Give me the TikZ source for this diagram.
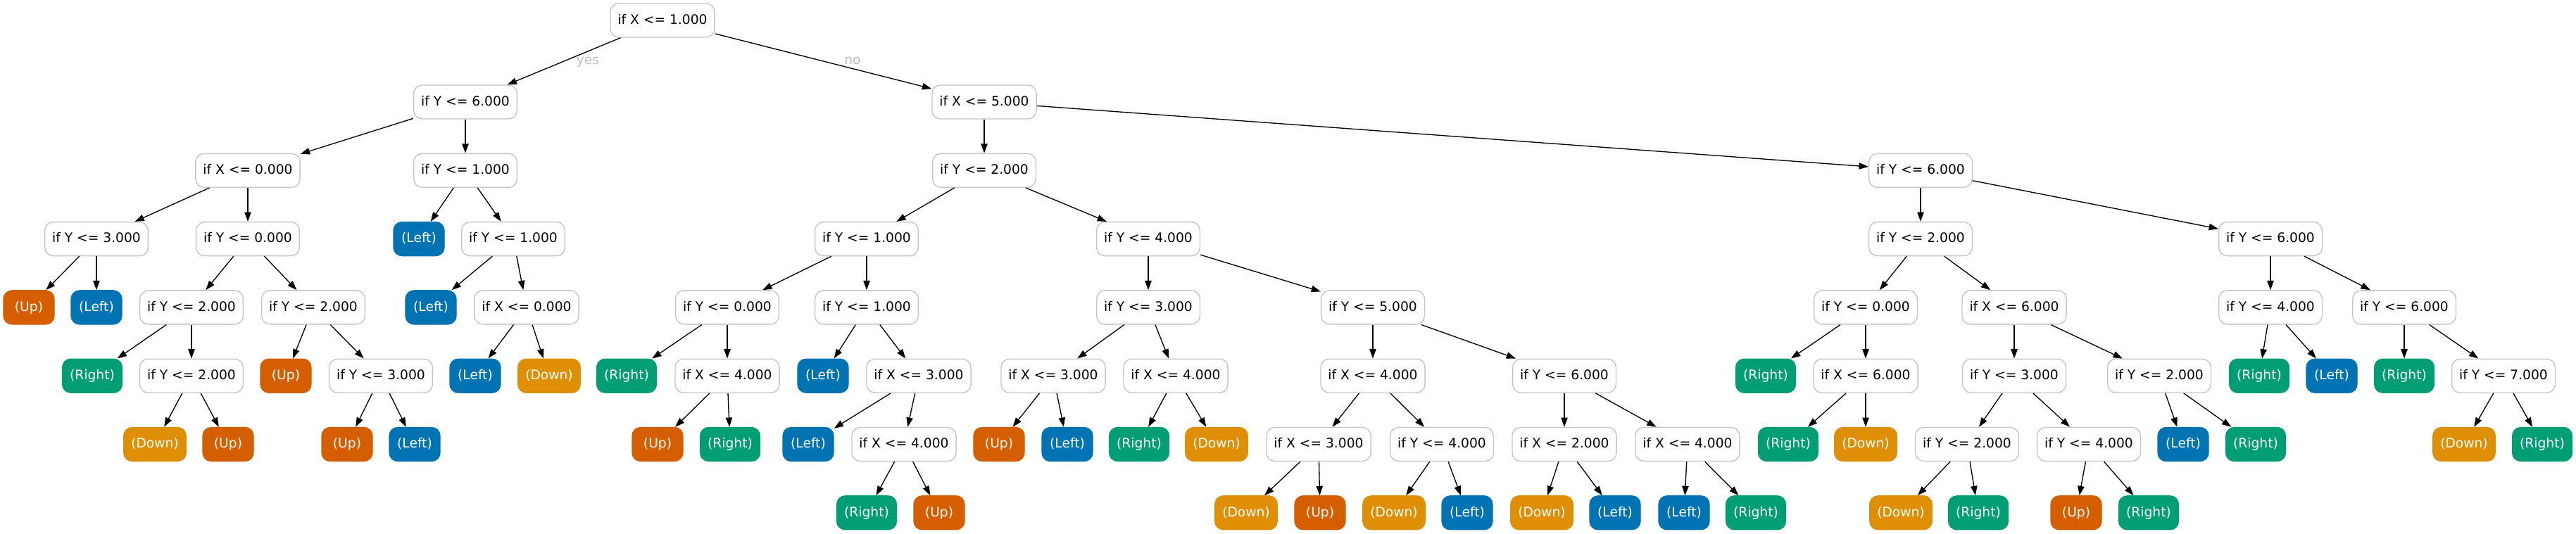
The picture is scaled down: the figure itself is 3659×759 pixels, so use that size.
\documentclass[tikz,border=0pt]{standalone}
\usepackage{fontspec}
\setmainfont{DejaVu Sans}
\usetikzlibrary{arrows.meta}
\definecolor{cUp}{HTML}{D55E00}
\definecolor{cLeft}{HTML}{0173B2}
\definecolor{cRight}{HTML}{029E73}
\definecolor{cDown}{HTML}{DE8F05}
\definecolor{bordergray}{HTML}{C4C4C4}
\definecolor{labelgray}{HTML}{BDBDBD}
\tikzset{
  basebox/.style={rounded corners=9pt, minimum height=36pt, minimum width=54pt,
    inner xsep=7.92pt, inner ysep=0pt, text height=10.4pt, text depth=2.6pt,
    font=\fontsize{14pt}{16pt}\selectfont, line width=1pt},
  dec/.style={basebox, draw=bordergray, fill=white, text=black},
  lfUp/.style={basebox, draw=cUp, fill=cUp, text=white},
  lfLeft/.style={basebox, draw=cLeft, fill=cLeft, text=white},
  lfRight/.style={basebox, draw=cRight, fill=cRight, text=white},
  lfDown/.style={basebox, draw=cDown, fill=cDown, text=white},
  edge/.style={draw=black, line width=1pt, -{Triangle[length=10pt,width=7pt]}},
  elab/.style={font=\fontsize{14pt}{16pt}\selectfont, text=labelgray, anchor=base, inner sep=0pt}
}
\begin{document}
\begin{tikzpicture}[x=0.75pt,y=-0.75pt]
\fill[white] (0,0) rectangle (3659,759);
\useasboundingbox (0,0) rectangle (3659,759);
% level 0
\node[dec] (r) at (941,29) {if X <= 1.000};
% level 1
\node[dec] (a) at (661,145) {if Y <= 6.000};
\node[dec] (b) at (1398,145) {if X <= 5.000};
% level 2
\node[dec] (aa) at (352,242.3) {if X <= 0.000};
\node[dec] (ab) at (661,242.3) {if Y <= 1.000};
\node[dec] (ba) at (1398,242.3) {if Y <= 2.000};
\node[dec] (bb) at (2728,242.3) {if Y <= 6.000};
% level 3
\node[dec] (aaa) at (137,339.6) {if Y <= 3.000};
\node[dec] (aab) at (352,339.6) {if Y <= 0.000};
\node[lfLeft] (aba) at (595,339.6) {(Left)};
\node[dec] (abb) at (729,339.6) {if Y <= 1.000};
\node[dec] (baa) at (1231,339.6) {if Y <= 1.000};
\node[dec] (bab) at (1631,339.6) {if Y <= 4.000};
\node[dec] (bba) at (2728,339.6) {if Y <= 2.000};
\node[dec] (bbb) at (3225,339.6) {if Y <= 6.000};
% level 4
\node[lfUp] (aaaa) at (41,436.9) {(Up)};
\node[lfLeft] (aaab) at (137,436.9) {(Left)};
\node[dec] (aaba) at (272,436.9) {if Y <= 2.000};
\node[dec] (aabb) at (445,436.9) {if Y <= 2.000};
\node[lfLeft] (abba) at (612,436.9) {(Left)};
\node[dec] (abbb) at (748,436.9) {if X <= 0.000};
\node[dec] (baaa) at (1033,436.9) {if Y <= 0.000};
\node[dec] (baab) at (1231,436.9) {if Y <= 1.000};
\node[dec] (baba) at (1631,436.9) {if Y <= 3.000};
\node[dec] (babb) at (1950,436.9) {if Y <= 5.000};
\node[dec] (bbaa) at (2650,436.9) {if Y <= 0.000};
\node[dec] (bbab) at (2861,436.9) {if X <= 6.000};
\node[dec] (bbba) at (3225,436.9) {if Y <= 4.000};
\node[dec] (bbbb) at (3415,436.9) {if Y <= 6.000};
% level 5
\node[lfRight] (aabaa) at (131,534.2) {(Right)};
\node[dec] (aabab) at (272,534.2) {if Y <= 2.000};
\node[lfUp] (aabba) at (406,534.2) {(Up)};
\node[dec] (aabbb) at (541,534.2) {if Y <= 3.000};
\node[lfLeft] (abbba) at (675,534.2) {(Left)};
\node[lfDown] (abbbb) at (780,534.2) {(Down)};
\node[lfRight] (baaaa) at (890,534.2) {(Right)};
\node[dec] (baaab) at (1033,534.2) {if X <= 4.000};
\node[lfLeft] (baaba) at (1169,534.2) {(Left)};
\node[dec] (baabb) at (1305,534.2) {if X <= 3.000};
\node[dec] (babaa) at (1496,534.2) {if X <= 3.000};
\node[dec] (babab) at (1670,534.2) {if X <= 4.000};
\node[dec] (babba) at (1950,534.2) {if X <= 4.000};
\node[dec] (babbb) at (2222,534.2) {if Y <= 6.000};
\node[lfRight] (bbaaa) at (2508,534.2) {(Right)};
\node[dec] (bbaab) at (2650,534.2) {if X <= 6.000};
\node[dec] (bbaba) at (2861,534.2) {if Y <= 3.000};
\node[dec] (bbabb) at (3067,534.2) {if Y <= 2.000};
\node[lfRight] (bbbaa) at (3209,534.2) {(Right)};
\node[lfLeft] (bbbab) at (3312,534.2) {(Left)};
\node[lfRight] (bbbba) at (3415,534.2) {(Right)};
\node[dec] (bbbbb) at (3556,534.2) {if Y <= 7.000};
% level 6
\node[lfDown] (aababa) at (220,631.5) {(Down)};
\node[lfUp] (aababb) at (324,631.5) {(Up)};
\node[lfUp] (aabbba) at (493,631.5) {(Up)};
\node[lfLeft] (aabbbb) at (589,631.5) {(Left)};
\node[lfUp] (baaaba) at (934,631.5) {(Up)};
\node[lfRight] (baaabb) at (1037,631.5) {(Right)};
\node[lfLeft] (baabba) at (1148,631.5) {(Left)};
\node[dec] (baabbb) at (1284,631.5) {if X <= 4.000};
\node[lfUp] (babaaa) at (1419,631.5) {(Up)};
\node[lfLeft] (babaab) at (1516,631.5) {(Left)};
\node[lfRight] (bababa) at (1618,631.5) {(Right)};
\node[lfDown] (bababb) at (1728,631.5) {(Down)};
\node[dec] (babbaa) at (1873,631.5) {if X <= 3.000};
\node[dec] (babbab) at (2048,631.5) {if Y <= 4.000};
\node[dec] (babbba) at (2222,631.5) {if X <= 2.000};
\node[dec] (babbbb) at (2397,631.5) {if X <= 4.000};
\node[lfRight] (bbaaba) at (2540,631.5) {(Right)};
\node[lfDown] (bbaabb) at (2650,631.5) {(Down)};
\node[dec] (bbabaa) at (2794,631.5) {if Y <= 2.000};
\node[dec] (bbabab) at (2967,631.5) {if Y <= 4.000};
\node[lfLeft] (bbabba) at (3101,631.5) {(Left)};
\node[lfRight] (bbabbb) at (3204,631.5) {(Right)};
\node[lfDown] (bbbbba) at (3500,631.5) {(Down)};
\node[lfRight] (bbbbbb) at (3611,631.5) {(Right)};
% level 7
\node[lfRight] (baabbba) at (1231,728.8) {(Right)};
\node[lfUp] (baabbbb) at (1334,728.8) {(Up)};
\node[lfDown] (babbaaa) at (1770,728.8) {(Down)};
\node[lfUp] (babbaab) at (1875,728.8) {(Up)};
\node[lfDown] (babbaba) at (1980,728.8) {(Down)};
\node[lfLeft] (babbabb) at (2084,728.8) {(Left)};
\node[lfDown] (babbbaa) at (2190,728.8) {(Down)};
\node[lfLeft] (babbbab) at (2294,728.8) {(Left)};
\node[lfLeft] (babbbba) at (2392,728.8) {(Left)};
\node[lfRight] (babbbbb) at (2494,728.8) {(Right)};
\node[lfDown] (bbabaaa) at (2700,728.8) {(Down)};
\node[lfRight] (bbabaab) at (2810,728.8) {(Right)};
\node[lfUp] (bbababa) at (2949,728.8) {(Up)};
\node[lfRight] (bbababb) at (3052,728.8) {(Right)};
% edges
\foreach \p/\c in {r/a, r/b, a/aa, a/ab, b/ba, b/bb,
  aa/aaa, aa/aab, ab/aba, ab/abb, ba/baa, ba/bab, bb/bba, bb/bbb,
  aaa/aaaa, aaa/aaab, aab/aaba, aab/aabb, abb/abba, abb/abbb,
  baa/baaa, baa/baab, bab/baba, bab/babb, bba/bbaa, bba/bbab, bbb/bbba, bbb/bbbb,
  aaba/aabaa, aaba/aabab, aabb/aabba, aabb/aabbb, abbb/abbba, abbb/abbbb,
  baaa/baaaa, baaa/baaab, baab/baaba, baab/baabb, baba/babaa, baba/babab,
  babb/babba, babb/babbb, bbaa/bbaaa, bbaa/bbaab, bbab/bbaba, bbab/bbabb,
  bbba/bbbaa, bbba/bbbab, bbbb/bbbba, bbbb/bbbbb,
  aabab/aababa, aabab/aababb, aabbb/aabbba, aabbb/aabbbb,
  baaab/baaaba, baaab/baaabb, baabb/baabba, baabb/baabbb,
  babaa/babaaa, babaa/babaab, babab/bababa, babab/bababb,
  babba/babbaa, babba/babbab, babbb/babbba, babbb/babbbb,
  bbaab/bbaaba, bbaab/bbaabb, bbaba/bbabaa, bbaba/bbabab,
  bbabb/bbabba, bbabb/bbabbb, bbbbb/bbbbba, bbbbb/bbbbbb,
  baabbb/baabbba, baabbb/baabbbb, babbaa/babbaaa, babbaa/babbaab,
  babbab/babbaba, babbab/babbabb, babbba/babbbaa, babbba/babbbab,
  babbbb/babbbba, babbbb/babbbbb, bbabaa/bbabaaa, bbabaa/bbabaab,
  bbabab/bbababa, bbabab/bbababb}
  \draw[edge] (\p) -- (\c);
% edge labels
\node[elab] (yeslab) at (835,92) {yes};
\node[elab] (nolab) at (1211,92) {no};
\end{tikzpicture}
\end{document}
